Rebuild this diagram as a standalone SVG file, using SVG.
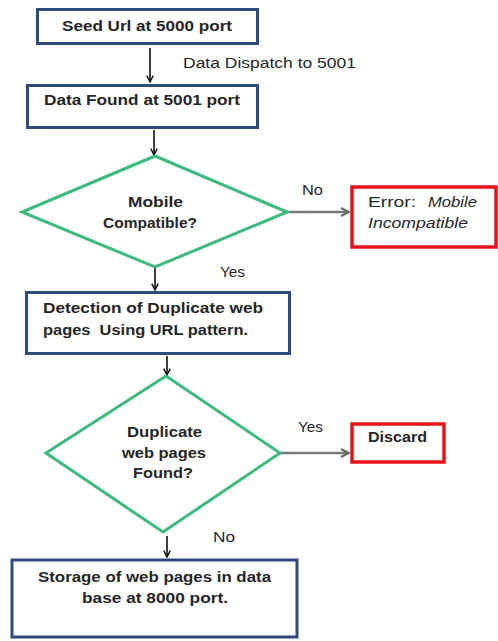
<svg xmlns="http://www.w3.org/2000/svg" width="498" height="641" viewBox="0 0 498 641">
  <style>
    .box { fill: #ffffff; stroke: #2f4b7c; stroke-width: 3; }
    .dec { fill: #ffffff; stroke: #3dba7c; stroke-width: 3; }
    .err { fill: #ffffff; stroke: #e8121c; stroke-width: 3.5; }
    .t { font-family: "Liberation Sans", Arial, sans-serif; font-size: 14px; fill: #262626; }
    .b { font-weight: bold; }
    .i { font-style: italic; }
    .flow { stroke: #111111; stroke-width: 1.6; fill: none; }
    .side { stroke: #777777; stroke-width: 2.5; fill: none; }
  </style>
  <defs>
    <marker id="arr" viewBox="0 0 10 10" refX="9" refY="5" markerWidth="8" markerHeight="8" markerUnits="userSpaceOnUse" orient="auto">
      <path d="M1,1 L9,5 L1,9" fill="none" stroke="#111111" stroke-width="1.8"/>
    </marker>
    <marker id="arrg" viewBox="0 0 10 10" refX="9" refY="5" markerWidth="10" markerHeight="10" markerUnits="userSpaceOnUse" orient="auto">
      <path d="M1,1 L9,5 L1,9" fill="none" stroke="#666666" stroke-width="2"/>
    </marker>
  </defs>
  <rect width="498" height="641" fill="#ffffff"/>

  <!-- connectors and their labels -->
  <g id="connectors">
    <line class="flow" x1="150" y1="48" x2="150" y2="82" marker-end="url(#arr)"/>
    <text class="t" x="183" y="68" textLength="173" lengthAdjust="spacingAndGlyphs">Data Dispatch to 5001</text>
    <line class="flow" x1="154" y1="130" x2="154" y2="155" marker-end="url(#arr)"/>
    <line class="side" x1="287" y1="212" x2="349" y2="212" marker-end="url(#arrg)"/>
    <text class="t" x="302" y="195" textLength="21" lengthAdjust="spacingAndGlyphs">No</text>
    <line class="flow" x1="155" y1="268" x2="155" y2="290" marker-end="url(#arr)"/>
    <text class="t" x="220" y="277" textLength="25" lengthAdjust="spacingAndGlyphs">Yes</text>
    <line class="flow" x1="167" y1="356" x2="167" y2="375" marker-end="url(#arr)"/>
    <line class="side" x1="280" y1="453" x2="349" y2="453" marker-end="url(#arrg)"/>
    <text class="t" x="298" y="432" textLength="25" lengthAdjust="spacingAndGlyphs">Yes</text>
    <line class="flow" x1="167" y1="536" x2="167" y2="557" marker-end="url(#arr)"/>
    <text class="t" x="213" y="542" textLength="22" lengthAdjust="spacingAndGlyphs">No</text>
  </g>

  <g id="seed">
    <rect class="box" x="37.5" y="9.5" width="220" height="34"/>
    <text class="t b" x="62" y="31" textLength="170" lengthAdjust="spacingAndGlyphs">Seed Url at 5000 port</text>
  </g>

  <g id="found">
    <rect class="box" x="27.5" y="85.5" width="230" height="42"/>
    <text class="t b" x="44" y="105" textLength="196" lengthAdjust="spacingAndGlyphs">Data Found at 5001 port</text>
  </g>

  <g id="mobile">
    <polygon class="dec" points="155,156 287,212 155,267 22,212"/>
    <text class="t b" x="128" y="207" textLength="55" lengthAdjust="spacingAndGlyphs">Mobile</text>
    <text class="t b" x="103" y="228" textLength="94" lengthAdjust="spacingAndGlyphs">Compatible?</text>
  </g>

  <g id="error">
    <rect class="err" x="352" y="187" width="144" height="60"/>
    <text class="t" x="368" y="207" textLength="48" lengthAdjust="spacingAndGlyphs">Error:</text>
    <text class="t i" x="428" y="207" textLength="49" lengthAdjust="spacingAndGlyphs">Mobile</text>
    <text class="t i" x="368" y="228" textLength="100" lengthAdjust="spacingAndGlyphs">Incompatible</text>
  </g>

  <g id="detect">
    <rect class="box" x="26.5" y="292.5" width="263" height="61"/>
    <text class="t b" x="43" y="313" textLength="220" lengthAdjust="spacingAndGlyphs">Detection of Duplicate web</text>
    <text class="t b" x="43" y="335" textLength="205" lengthAdjust="spacingAndGlyphs" xml:space="preserve">pages  Using URL pattern.</text>
  </g>

  <g id="duplicate">
    <polygon class="dec" points="166,376 280,453 163,532 46,453"/>
    <text class="t b" x="127" y="437" textLength="75" lengthAdjust="spacingAndGlyphs">Duplicate</text>
    <text class="t b" x="122" y="458" textLength="84" lengthAdjust="spacingAndGlyphs">web pages</text>
    <text class="t b" x="133" y="478" textLength="60" lengthAdjust="spacingAndGlyphs">Found?</text>
  </g>

  <g id="discard">
    <rect class="err" x="352" y="424" width="92" height="38"/>
    <text class="t b" x="368" y="442" textLength="59" lengthAdjust="spacingAndGlyphs">Discard</text>
  </g>

  <g id="storage">
    <rect class="box" x="12" y="560" width="285" height="77"/>
    <text class="t b" x="38" y="582" textLength="233" lengthAdjust="spacingAndGlyphs">Storage of web pages in data</text>
    <text class="t b" x="82" y="603" textLength="146" lengthAdjust="spacingAndGlyphs">base at 8000 port.</text>
  </g>
</svg>
